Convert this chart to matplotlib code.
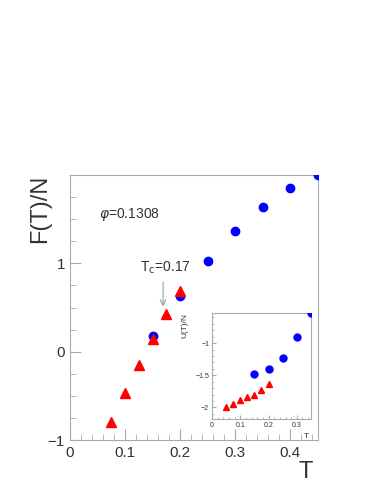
import numpy as np
import matplotlib
matplotlib.use("Agg")
import matplotlib.pyplot as plt
from matplotlib.ticker import MultipleLocator

# main panel: F(T)/N vs T
T_blue = [0.15, 0.20, 0.25, 0.30, 0.35, 0.40, 0.45]
F_blue = [0.18, 0.63, 1.03, 1.37, 1.64, 1.85, 2.00]
T_red = [0.075, 0.100, 0.125, 0.150, 0.175, 0.200]
F_red = [-0.80, -0.47, -0.15, 0.14, 0.43, 0.69]

# inset: U(T)/N vs T
Ti_blue = [0.15, 0.20, 0.25, 0.30, 0.35]
U_blue = [-1.48, -1.40, -1.23, -0.91, -0.53]
Ti_red = [0.05, 0.075, 0.10, 0.125, 0.15, 0.175, 0.20]
U_red = [-1.99, -1.94, -1.89, -1.83, -1.80, -1.73, -1.64]

txt = '#333333'
frame = '#aaaaaa'
plt.rcParams['font.family'] = ['Liberation Sans', 'DejaVu Sans']

fig = plt.figure(figsize=(3.82, 4.94), dpi=100)

def style(ax, size):
    for s in ax.spines.values():
        s.set_color(frame)
        s.set_linewidth(0.8)
    ax.tick_params(which='both', direction='in', colors=frame, labelcolor=txt,
                   labelsize=size, top=False, right=False)

ax = fig.add_axes([0.1832, 0.1093, 0.649, 0.5364])
ax.plot(T_blue, F_blue, 'o', color='#0000ff', ms=6, zorder=3)
ax.plot(T_red, F_red, '^', color='#ff0000', ms=6.5, zorder=3)
ax.set_xlim(0, 0.45)
ax.set_ylim(-1, 2)
ax.xaxis.set_major_locator(MultipleLocator(0.1))
ax.xaxis.set_minor_locator(MultipleLocator(0.02))
ax.yaxis.set_major_locator(MultipleLocator(1))
ax.yaxis.set_minor_locator(MultipleLocator(0.25))
ax.set_xticks([0, 0.1, 0.2, 0.3, 0.4])
ax.set_xticklabels(['0', '0.1', '0.2', '0.3', '0.4'])
ax.set_yticks([-1, 0, 1])
ax.set_yticklabels(['\u22121', '0', '1'])
style(ax, 11)
ax.tick_params(which='major', length=8)
ax.tick_params(which='minor', length=4)
ax.tick_params(axis='x', pad=4)

ax.text(0.98, -0.08, 'T', transform=ax.transAxes, ha='right', va='top',
        fontsize=17, color=txt)
ax.text(-0.12, 1.0, 'F(T)/N', transform=ax.transAxes, rotation=90,
        ha='center', va='top', fontsize=17, color=txt)
ax.text(0.053, 1.55, r'$\varphi$=0.1308', fontsize=10, color=txt, va='center')
ax.text(0.127, 0.95, r'T$_\mathrm{c}$=0.17', fontsize=10, color=txt, va='center')
ax.annotate('', xy=(0.169, 0.48), xytext=(0.169, 0.82),
            arrowprops=dict(arrowstyle='->', color='#999999', lw=0.8))

ins = fig.add_axes([0.555, 0.1518, 0.259, 0.2146])
ins.plot(Ti_blue, U_blue, 'o', color='#0000ff', ms=5, zorder=3)
ins.plot(Ti_red, U_red, '^', color='#ff0000', ms=5, zorder=3)
ins.set_xlim(0, 0.35)
ins.set_ylim(-2.18, -0.53)
ins.xaxis.set_major_locator(MultipleLocator(0.1))
ins.xaxis.set_minor_locator(MultipleLocator(0.02))
ins.yaxis.set_major_locator(MultipleLocator(0.5))
ins.yaxis.set_minor_locator(MultipleLocator(0.1))
ins.set_xticks([0, 0.1, 0.2, 0.3])
ins.set_xticklabels(['0', '0.1', '0.2', '0.3'])
ins.set_yticks([-2, -1.5, -1])
ins.set_yticklabels(['\u22122', '\u22121.5', '\u22121'])
style(ins, 5)
ins.tick_params(which='major', length=3)
ins.tick_params(which='minor', length=1.5)
ins.tick_params(pad=2)
ins.text(0.98, -0.13, 'T', transform=ins.transAxes, ha='right', va='top',
         fontsize=6, color=txt)
ins.text(-0.27, 1.0, 'U(T)/N', transform=ins.transAxes, rotation=90,
         ha='center', va='top', fontsize=6, color=txt)

fig.savefig('out.png', dpi=100)
